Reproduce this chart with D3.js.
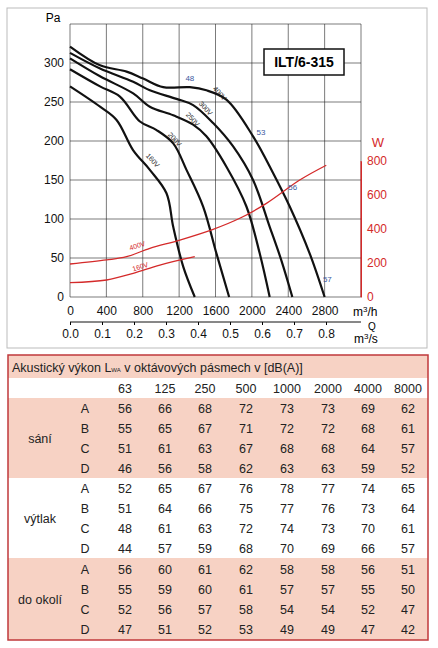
<!DOCTYPE html>
<html><head><meta charset="utf-8">
<script src="https://cdn.jsdelivr.net/npm/d3@7"></script>
<style>body{margin:0;background:#fff}text{font-family:Arial,"Liberation Sans",sans-serif}</style>
</head><body><svg id="c" width="438" height="648"></svg>
<script>
// pressure curves [m3/h, Pa]
const c400 = [[0,321],[330,297],[622,289],[805,280],[1025,269],[1318,269],[1500,265],[1720,253],[2013,206],[2233,159],[2416,116],[2635,56],[2800,0]];
const c300 = [[0,313],[330,293],[695,276],[878,265],[1171,254],[1354,246],[1574,223],[1794,193],[2013,150],[2196,90],[2324,47],[2445,0]];
const c250 = [[0,306],[330,283],[695,261],[878,244],[1135,233],[1354,221],[1500,206],[1720,167],[1940,116],[2086,56],[2196,0]];
const c200 = [[0,292],[330,270],[549,257],[769,225],[952,214],[1135,197],[1281,163],[1464,116],[1610,56],[1750,0]];
const c160 = [[0,270],[330,244],[512,227],[695,188],[878,163],[1061,133],[1135,90],[1245,39],[1372,0]];
// power curves [m3/h, W]
const p400 = [[0,194],[403,218],[622,237],[878,286],[1208,335],[1574,398],[1867,463],[2160,551],[2526,688],[2818,775]];
const p160 = [[0,84],[403,100],[695,139],[988,188],[1372,237]];
const qTicks = [0,400,800,1200,1600,2000,2400,2800];
const paTicks = [0,50,100,150,200,250,300];
const wTicks = [0,200,400,600,800];
const qsTicks = [0,0.1,0.2,0.3,0.4,0.5,0.6,0.7,0.8];
const noiseLabels = [["48",1318,269],["53",2100,200],["56",2450,130],["57",2830,12]];

const bands = ["63","125","250","500","1000","2000","4000","8000"];
const groups = ["sání","výtlak","do okolí"];
const rowsLetters = ["A","B","C","D"];
const sani = [[56,66,68,72,73,73,69,62],[55,65,67,71,72,72,68,61],[51,61,63,67,68,68,64,57],[46,56,58,62,63,63,59,52]];
const vytlak = [[52,65,67,76,78,77,74,65],[51,64,66,75,77,76,73,64],[48,61,63,72,74,73,70,61],[44,57,59,68,70,69,66,57]];
const okoli = [[56,60,61,62,58,58,56,51],[55,59,60,61,57,57,55,50],[52,56,57,58,54,54,52,47],[47,51,52,53,49,49,47,42]];

const svg = d3.select("#c");
const red = "#d42a2a", blue = "#3b58a0";
svg.append("rect").attr("x",7).attr("y",8).attr("width",420).attr("height",340).attr("fill","none").attr("stroke","#bbb");

const x = d3.scaleLinear().domain([0,3200]).range([70,361]);
const y = d3.scaleLinear().domain([0,350]).range([297,24]);
const yW = d3.scaleLinear().domain([0,800]).range([297,161]);
const xs = d3.scaleLinear().domain([0,0.8]).range([70,326]);

// grid
const g = svg.append("g");
d3.range(0,3201,400).forEach(v=>g.append("line").attr("x1",x(v)).attr("x2",x(v)).attr("y1",24).attr("y2",297).attr("stroke","#222").attr("stroke-width",0.6));
d3.range(0,351,50).forEach(v=>g.append("line").attr("x1",70).attr("x2",361).attr("y1",y(v)).attr("y2",y(v)).attr("stroke","#222").attr("stroke-width",0.6));

const axL = svg.append("g").attr("transform","translate(70,0)").call(d3.axisLeft(y).tickValues(paTicks).tickSize(0).tickPadding(6));
axL.select(".domain").remove();
axL.selectAll("text").attr("font-size",12).attr("fill","#111");
svg.append("text").attr("x",53).attr("y",22).attr("text-anchor","middle").attr("font-size",12).text("Pa");

const axB = svg.append("g").attr("transform","translate(0,297)").call(d3.axisBottom(x).tickValues(qTicks).tickFormat(d3.format("d")).tickSize(0).tickPadding(9));
axB.select(".domain").remove();
axB.selectAll("text").attr("font-size",12).attr("fill","#111");
svg.append("text").attr("x",353).attr("y",316).attr("font-size",12).html("m<tspan font-size='8' dy='-4'>3</tspan><tspan dy='4'>/h</tspan>");

const axR = svg.append("g").attr("transform","translate(361,0)").call(d3.axisRight(yW).tickValues(wTicks).tickSize(0).tickPadding(6));
axR.select(".domain").attr("stroke",red);
axR.selectAll("text").attr("font-size",12).attr("fill",red);
svg.append("line").attr("x1",361).attr("x2",361).attr("y1",161).attr("y2",297).attr("stroke",red);
svg.append("text").attr("x",378).attr("y",147).attr("text-anchor","middle").attr("font-size",13).attr("fill",red).text("W");

const axS = svg.append("g").attr("transform","translate(0,322)").call(d3.axisBottom(xs).tickValues(qsTicks).tickFormat(d3.format(".1f")).tickSize(3).tickPadding(4));
axS.select(".domain").remove();
svg.append("line").attr("x1",70).attr("x2",361).attr("y1",322).attr("y2",322).attr("stroke","#111");
axS.selectAll("text").attr("font-size",12).attr("fill","#111");
svg.append("text").attr("x",372).attr("y",330).attr("text-anchor","middle").attr("font-size",10).text("Q");
svg.append("text").attr("x",354).attr("y",343).attr("font-size",12).html("m<tspan font-size='8' dy='-4'>3</tspan><tspan dy='4'>/s</tspan>");

const line = d3.line().x(d=>x(d[0])).y(d=>y(d[1])).curve(d3.curveCatmullRom);
[c400,c300,c250,c200,c160].forEach(c=>svg.append("path").attr("d",line(c)).attr("fill","none").attr("stroke","#111").attr("stroke-width",2.2));
const wline = d3.line().x(d=>x(d[0])).y(d=>yW(d[1])).curve(d3.curveCatmullRom);
[p400,p160].forEach(c=>svg.append("path").attr("d",wline(c)).attr("fill","none").attr("stroke",red).attr("stroke-width",1.3));

[["400V",218,95],["300V",204,110],["250V",191,121],["200V",173,141],["160V",151,162]].forEach(([t,a,b])=>
  svg.append("text").attr("transform",`translate(${a},${b}) rotate(48)`).attr("text-anchor","middle").attr("font-size",7).attr("fill","#222").text(t));
[["400V",138,248],["160V",141,269]].forEach(([t,a,b])=>
  svg.append("text").attr("transform",`translate(${a},${b}) rotate(-18)`).attr("text-anchor","middle").attr("font-size",7).attr("fill",red).text(t));
noiseLabels.forEach(([t,q,p])=>svg.append("text").attr("x",x(q)).attr("y",y(p)-6).attr("text-anchor","middle").attr("font-size",8).attr("fill",blue).text(t));

svg.append("rect").attr("x",264).attr("y",49).attr("width",80).attr("height",26).attr("fill","#fff").attr("stroke","#111").attr("stroke-width",1.5);
svg.append("text").attr("x",304).attr("y",67).attr("text-anchor","middle").attr("font-size",14).attr("font-weight","bold").text("ILT/6-315");

// table
const pink = "#f7d2c4";
const t = svg.append("g");
const colX = [125,165,205,246,287,328,368,408];
t.append("rect").attr("x",8).attr("y",355).attr("width",420).attr("height",23).attr("fill",pink);
t.append("text").attr("x",12).attr("y",372).attr("font-size",12.5).attr("fill","#222")
  .html("Akustický výkon L<tspan font-size='6'>WA</tspan> v oktávových pásmech v [dB(A)]");
bands.forEach((b,i)=>t.append("text").attr("x",colX[i]).attr("y",393).attr("text-anchor","middle").attr("font-size",12.5).attr("fill","#222").text(b));
[sani,vytlak,okoli].forEach((data,gi)=>{
  const y0 = 398 + gi*80 + (gi===2?1:0);
  if(gi!==1) t.append("rect").attr("x",8).attr("y",gi===2?y0-1:y0).attr("width",420).attr("height",gi===2?82:80).attr("fill",pink);
  t.append("text").attr("x",40).attr("y",y0+45).attr("text-anchor","middle").attr("font-size",12.5).attr("fill","#222").text(groups[gi]);
  data.forEach((row,ri)=>{
    const yy = y0 + ri*20 + 15;
    t.append("text").attr("x",85).attr("y",yy).attr("text-anchor","middle").attr("font-size",12.5).attr("fill","#222").text(rowsLetters[ri]);
    row.forEach((v,ci)=>t.append("text").attr("x",colX[ci]).attr("y",yy).attr("text-anchor","middle").attr("font-size",12.5).attr("fill","#222").text(v));
  });
});
t.append("rect").attr("x",8).attr("y",355).attr("width",420).attr("height",285).attr("fill","none").attr("stroke","#c0393b").attr("stroke-width",1.5);
</script></body></html>
